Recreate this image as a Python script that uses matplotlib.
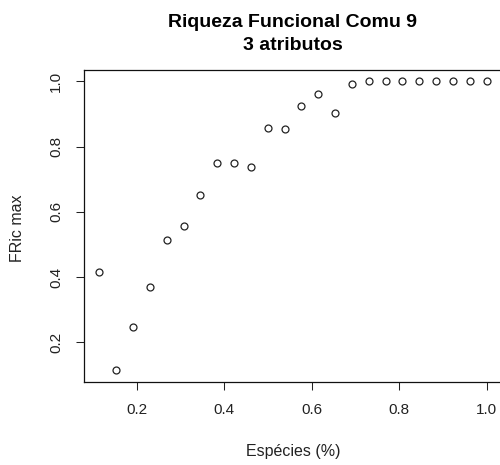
import numpy as np
import matplotlib.pyplot as plt

# Dados
n_especies = 26
k = np.arange(3, 27)
especies = k / n_especies
fric_max = [0.416, 0.114, 0.247, 0.370, 0.513, 0.556, 0.653, 0.750, 0.750, 0.738,
            0.858, 0.855, 0.924, 0.961, 0.902, 0.993, 1.0, 1.0, 1.0, 1.0,
            1.0, 1.0, 1.0, 1.0]

x_ticks = [0.2, 0.4, 0.6, 0.8, 1.0]
y_ticks = [0.2, 0.4, 0.6, 0.8, 1.0]

plt.rcParams['font.family'] = ['Liberation Sans', 'DejaVu Sans']

fig = plt.figure(figsize=(5, 4.65), dpi=100)
ax = fig.add_axes([0.168, 0.1785, 0.836, 0.6715])

ax.plot(especies, fric_max, linestyle='none', marker='o', markersize=5,
        markerfacecolor='none', markeredgecolor='#222222', markeredgewidth=0.9)

# limites estilo R (4% de margem)
def r_lim(v):
    lo, hi = min(v), max(v)
    pad = 0.04 * (hi - lo)
    return lo - pad, hi + pad

ax.set_xlim(*r_lim(especies))
ax.set_ylim(*r_lim(fric_max))

ax.set_xticks(x_ticks)
ax.set_xticklabels([f'{t:.1f}' for t in x_ticks])
ax.set_yticks(y_ticks)
ax.set_yticklabels([f'{t:.1f}' for t in y_ticks], rotation=90, va='center')

ax.tick_params(axis='both', direction='out', length=5.5, width=0.75,
               labelsize=11, colors='#222222', pad=9.5)

for s in ax.spines.values():
    s.set_linewidth(0.9)
    s.set_color('#111111')

fig.text(0.586, 0.952, 'Riqueza Funcional Comu 9', ha='center', va='center',
         fontsize=14, fontweight='bold')
fig.text(0.586, 0.903, '3 atributos', ha='center', va='center',
         fontsize=14, fontweight='bold')

fig.text(0.586, 0.028, 'Espécies (%)', ha='center', va='center', fontsize=11.5, color='#222222')
fig.text(0.036, 0.51, 'FRic max', ha='center', va='center', rotation=90,
         fontsize=11.5, color='#222222')

fig.savefig('out.png', dpi=100)
